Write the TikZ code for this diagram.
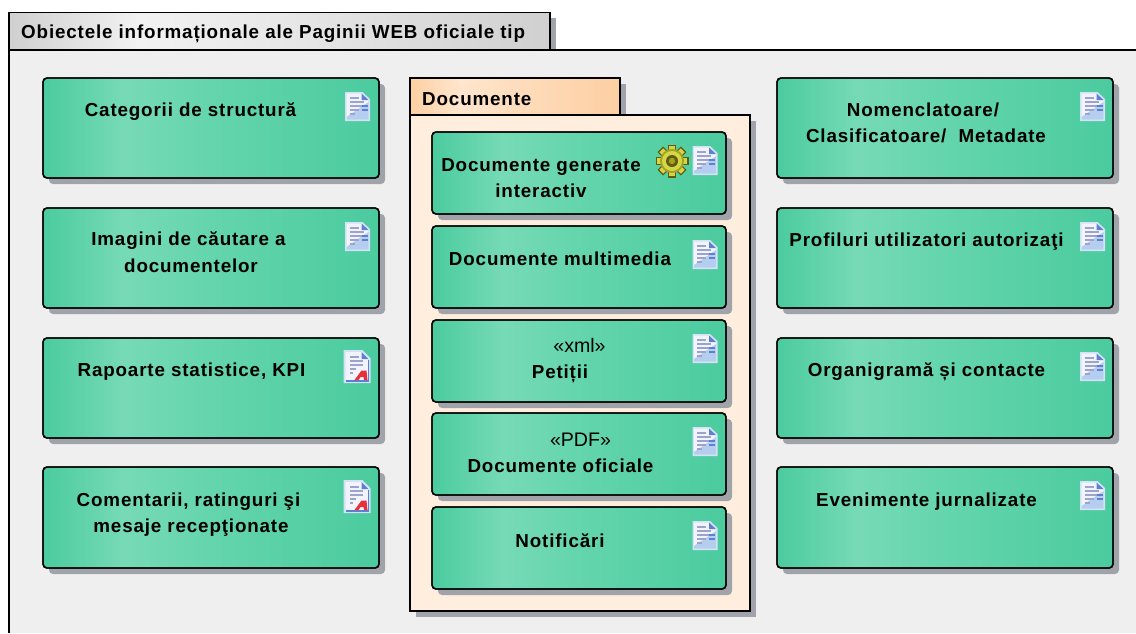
\documentclass[tikz,border=0pt]{standalone}
\usepackage{fontspec}
\setmainfont{Liberation Sans}
\newfontfamily\lblfont[LetterSpace=4.5]{Liberation Sans Bold}
\usetikzlibrary{calc}
\definecolor{grA}{HTML}{4BCB9F}
\definecolor{grB}{HTML}{76DAB6}
\definecolor{grC}{HTML}{64D5AC}
\definecolor{shadowc}{HTML}{A1A3AB}
\definecolor{framebg}{HTML}{EFEFEF}
\definecolor{pkgbg}{HTML}{FFEEDD}
\definecolor{icoEdge}{HTML}{D4E2F6}
\definecolor{icoPaper}{HTML}{F1F4FC}
\definecolor{icoBlue}{HTML}{B5CDEE}
\definecolor{icoFold}{HTML}{5F7FD0}
\definecolor{icoLine}{HTML}{9EA3CC}
\definecolor{gearDark}{HTML}{5F5C0E}
\definecolor{gearMid}{HTML}{A3A31F}
\definecolor{gearLight}{HTML}{D6D44A}
\definecolor{pdfRed}{HTML}{E8303A}
\pgfdeclarehorizontalshading{boxgrad}{100bp}{color(0bp)=(grA); color(25bp)=(grA); color(37bp)=(grB); color(50bp)=(grC); color(75bp)=(grA); color(100bp)=(grA)}
\definecolor{tabA}{HTML}{D0D0D0}
\definecolor{tabB}{HTML}{F2F2F2}
\pgfdeclarehorizontalshading{tabgrad}{100bp}{color(0bp)=(tabA); color(25bp)=(tabA); color(37bp)=(tabB); color(50bp)=(tabB!70!tabA); color(75bp)=(tabA); color(100bp)=(tabA)}
\definecolor{pkA}{HTML}{FDCFA2}
\definecolor{pkB}{HTML}{FFE6CE}
\pgfdeclarehorizontalshading{pkggrad}{100bp}{color(0bp)=(pkA); color(25bp)=(pkA); color(37bp)=(pkB); color(50bp)=(pkB!60!pkA); color(75bp)=(pkA); color(100bp)=(pkA)}
\tikzset{
  objbox/.style={draw=black,line width=1.4pt,rounded corners=4pt,shading=boxgrad,minimum width=#1,inner sep=0pt,anchor=north west},
  shadowbox/.style={fill=shadowc,rounded corners=4pt},
  lbl/.style={font=\lblfont\fontsize{18.8}{22}\selectfont,text=black,inner sep=0pt,anchor=base},
  lblreg/.style={font=\fontsize{19.6}{22}\selectfont,text=black,inner sep=0pt,anchor=base},
  heavy/.style={draw=black,line width=1.3pt},
  pics/docicon/.style={code={
    \fill[icoEdge] (-12.5,0) -- (5,0) -- (12.5,7) -- (12.5,29) -- (-12.5,29) -- cycle;
    \fill[icoPaper] (-11,1.5) -- (4,1.5) -- (11,8) -- (11,27.5) -- (-11,27.5) -- cycle;
    \fill[icoBlue] (11,10) -- (11,27.5) -- (-11,27.5) -- (-11,25) -- cycle;
    \fill[icoFold] (4,1.5) -- (4,8) -- (11,8) -- cycle;
    \foreach \yy/\xx in {6/1,10/6,14/6,18/1,22/-3}{
      \draw[icoLine,line width=1.5pt] (-8,\yy) -- (\xx,\yy);}
    \draw[icoFold,line width=1.2pt] (4,14) -- (10,14) (4,18) -- (10,18);
  }},
  pics/pdficon/.style={code={
    \fill[icoEdge] (-14,-2) -- (5,-2) -- (13,6) -- (13,31) -- (-14,31) -- cycle;
    \fill[icoPaper] (-12,0) -- (4,0) -- (11,7) -- (11,29) -- (-12,29) -- cycle;
    \fill[icoFold] (4,0) -- (4,7) -- (11,7) -- cycle;
    \draw[icoFold,line width=1.2pt] (11,8) -- (11,29) -- (-12,29);
    \foreach \yy/\xx in {5/1,9/5,13/5,17/-2,21/-5}{
      \draw[icoLine,line width=1.5pt] (-8,\yy) -- (\xx,\yy);}
    \fill[pdfRed] (-3,28) -- (4,18.5) -- (9,18.5) -- (10,28) -- (6.5,28) -- (6,25) -- (3,25) -- (1,28) -- cycle;
  }},
  pics/gearicon/.style={code={
    \foreach \aa in {0,45,...,315}{
      \fill[gearDark,rotate=\aa] (-4,-16.5) rectangle (4,-9);
      \fill[gearLight,rotate=\aa] (-2.8,-15.2) rectangle (2.8,-8);}
    \fill[gearMid] (0,0) circle (12);
    \fill[gearLight] (0,0) circle (10);
    \fill[gearDark] (0,0) circle (6);
    \fill[gearMid] (0,0) circle (3.2);
  }},
}
\newcommand{\objbox}[5]{% name, x1, y1, x2, y2
  \fill[shadowbox] (#2+6,#3+6) rectangle (#4+6,#5+6);
  \path[objbox=0pt] (#2,#3) rectangle (#4,#5);
  \draw[draw=black,line width=1.4pt,rounded corners=4pt] (#2,#3) rectangle (#4,#5);
  \coordinate (#1) at (#4,#3);
}
\begin{document}
\begin{tikzpicture}[x=1pt,y=-1pt]
\useasboundingbox (0,0) rectangle (1136,633);
\fill[white] (0,0) rectangle (1136,633);
% frame
\fill[shadowc] (550,18) rectangle (556,50);
\fill[framebg] (9,50) rectangle (1136,633);
\path[shading=tabgrad] (9,12.5) rectangle (550,50);
\draw[heavy] (9,633) -- (9,12.5) -- (550,12.5) -- (550,50);
\draw[heavy] (9,50) -- (1136,50);
\node[lbl,anchor=base west] (title) at (21,38) {Obiectele informaționale ale Paginii WEB oficiale tip};
% package
\fill[shadowc] (416,84) rectangle (626,121);
\fill[shadowc] (416,121) rectangle (756,617);
\fill[pkgbg] (410,115) rectangle (750,611);
\path[shading=pkggrad] (410,78) rectangle (620,115);
\draw[heavy] (410,115) -- (410,78) -- (620,78) -- (620,115);
\draw[heavy] (410,115) rectangle (750,611);
\node[lbl,anchor=base west] (pkg) at (422,105.5) {Documente};
% boxes
\objbox{ba}{43}{78}{379}{178}
\objbox{bb}{43}{208}{379}{308}
\objbox{bc}{43}{338}{379}{438}
\objbox{bd}{43}{467}{379}{568}
\objbox{ma}{432}{132}{726}{214}
\objbox{mb}{432}{226}{726}{308}
\objbox{mc}{432}{320}{726}{402}
\objbox{md}{432}{413}{726}{495}
\objbox{me}{432}{507}{726}{589}
\objbox{ra}{777}{78}{1113}{178}
\objbox{rb}{777}{208}{1113}{308}
\objbox{rc}{777}{338}{1113}{438}
\objbox{rd}{777}{467}{1113}{568}
% icons
\path (ba) ++(-21.5,14) pic {docicon};
\path (bb) ++(-21.5,14) pic {docicon};
\path (bc) ++(-21.5,14) pic {pdficon};
\path (bd) ++(-21.5,15) pic {pdficon};
\path (ma) ++(-21,14) pic {docicon};
\path (ma) ++(-54,29) pic {gearicon};
\path (mb) ++(-21,14) pic {docicon};
\path (mc) ++(-21,14) pic {docicon};
\path (md) ++(-21,14) pic {docicon};
\path (me) ++(-21,14) pic {docicon};
\path (ra) ++(-20.5,14) pic {docicon};
\path (rb) ++(-20.5,14) pic {docicon};
\path (rc) ++(-20.5,14) pic {docicon};
\path (rd) ++(-20.5,14) pic {docicon};
% labels
\node[lbl] (la) at (190.5,116) {Categorii de structură};
\node[lbl] (lb1) at (188.5,245) {Imagini de căutare a};
\node[lbl] (lb2) at (191,272) {documentelor};
\node[lbl] (lc) at (191.5,376) {Rapoarte statistice, KPI};
\node[lbl] (ld1) at (188.5,506) {Comentarii, ratinguri şi};
\node[lbl] (ld2) at (191,532) {mesaje recepţionate};
\node[lbl] (ma1) at (541,171) {Documente generate};
\node[lbl] (ma2) at (541,197) {interactiv};
\node[lbl] (mbl) at (560,265) {Documente multimedia};
\node[lblreg] (mc1) at (579.5,352) {«xml»};
\node[lbl] (mc2) at (560,378) {Petiții};
\node[lblreg] (md1) at (580.5,446) {«PDF»};
\node[lbl] (md2) at (560.5,472.5) {Documente oficiale};
\node[lbl] (mel) at (560,547) {Notificări};
\node[lbl] (ra1) at (923,116) {Nomenclatoare/};
\node[lbl] (ra2) at (926,142) {Clasificatoare/\ \ Metadate};
\node[lbl] (rbl) at (926.5,246) {Profiluri utilizatori autorizaţi};
\node[lbl] (rcl) at (926.5,376) {Organigramă și contacte};
\node[lbl] (rdl) at (926.5,506) {Evenimente jurnalizate};
\end{tikzpicture}
\end{document}
